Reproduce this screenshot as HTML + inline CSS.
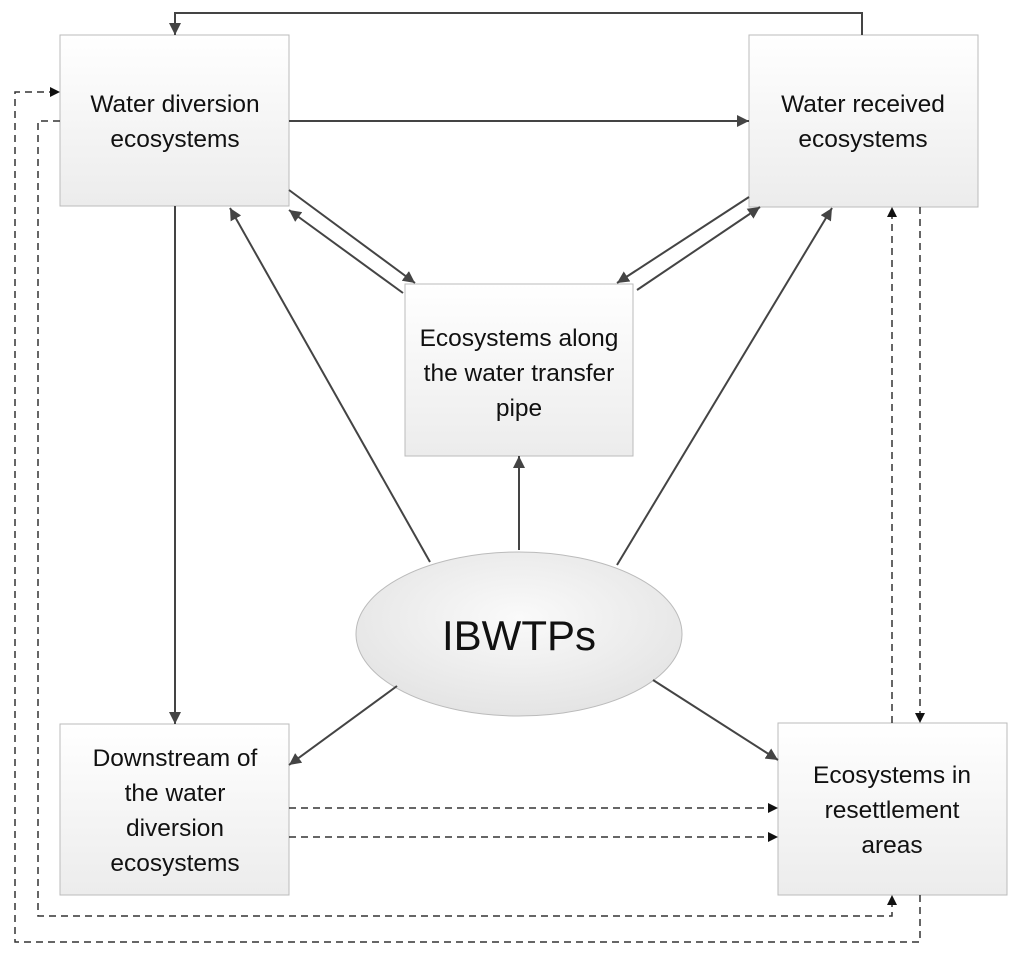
<!DOCTYPE html>
<html><head><style>
body{margin:0;background:#fff;}
svg text{font-family:"Liberation Sans",sans-serif;fill:#111;}
</style></head><body>
<svg width="1024" height="958" viewBox="0 0 1024 958" xmlns="http://www.w3.org/2000/svg">
<defs>
<linearGradient id="g" x1="0" y1="0" x2="0" y2="1"><stop offset="0" stop-color="#ffffff"/><stop offset="1" stop-color="#ececec"/></linearGradient>
<radialGradient id="e" cx="0.5" cy="0.4" r="0.6"><stop offset="0" stop-color="#fafafa"/><stop offset="1" stop-color="#e4e4e4"/></radialGradient>
<marker id="a" viewBox="0 0 10 10" refX="10" refY="5" markerWidth="12" markerHeight="12" markerUnits="userSpaceOnUse" orient="auto"><path d="M0,0 L10,5 L0,10 z" fill="#444"/></marker>
<marker id="b" viewBox="0 0 10 10" refX="10" refY="5" markerWidth="10" markerHeight="10" markerUnits="userSpaceOnUse" orient="auto"><path d="M0,0 L10,5 L0,10 z" fill="#111"/></marker>
</defs>
<g stroke="#bbb" stroke-width="1" fill="url(#g)">
<rect x="60" y="35" width="229" height="171"/>
<rect x="749" y="35" width="229" height="172"/>
<rect x="405" y="284" width="228" height="172"/>
<rect x="60" y="724" width="229" height="171"/>
<rect x="778" y="723" width="229" height="172"/>
</g>
<ellipse cx="519" cy="634" rx="163" ry="82" fill="url(#e)" stroke="#bbb"/>
<g stroke="#444" stroke-width="2" fill="none" marker-end="url(#a)">
<path d="M862,35 V13 H175 V35"/>
<path d="M289,121 H749"/>
<path d="M175,206 V724"/>
<path d="M289,190 L415,283"/>
<path d="M403,293 L289,210"/>
<path d="M749,197 L617,283"/>
<path d="M637,290 L760,207"/>
<path d="M430,562 L230,208"/>
<path d="M519,550 V456"/>
<path d="M617,565 L832,208"/>
<path d="M397,686 L289,765"/>
<path d="M653,680 L778,760"/>
</g>
<g stroke="#333" stroke-width="1.5" fill="none" stroke-dasharray="7,5" marker-end="url(#b)">
<path d="M920,895 V942 H15 V92 H60"/>
<path d="M60,121 H38 V916 H892 V895"/>
<path d="M289,808 H778"/>
<path d="M289,837 H778"/>
<path d="M920,207 V723"/>
<path d="M892,723 V207"/>
</g>
<g font-size="24.5" text-anchor="middle">
<text x="175" y="112">Water diversion</text><text x="175" y="147">ecosystems</text>
<text x="863" y="112">Water received</text><text x="863" y="147">ecosystems</text>
<text x="519" y="346">Ecosystems along</text><text x="519" y="381">the water transfer</text><text x="519" y="416">pipe</text>
<text x="175" y="766">Downstream of</text><text x="175" y="801">the water</text><text x="175" y="836">diversion</text><text x="175" y="871">ecosystems</text>
<text x="892" y="783">Ecosystems in</text><text x="892" y="818">resettlement</text><text x="892" y="853">areas</text>
<text x="519" y="650" font-size="42">IBWTPs</text>
</g>
</svg>
</body></html>
